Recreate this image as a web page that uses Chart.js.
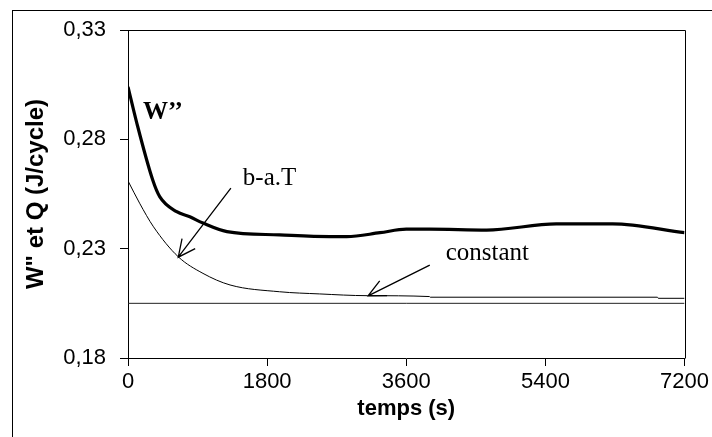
<!DOCTYPE html>
<html>
<head>
<meta charset="utf-8">
<script src="https://cdn.jsdelivr.net/npm/chart.js@4.4.1/dist/chart.umd.min.js"></script>
<style>
  html, body { margin: 0; padding: 0; background: #fff; }
  #wrap { width: 712px; height: 437px; }
</style>
</head>
<body>
<div id="wrap"><canvas id="graphe"></canvas></div>
<script>
// valeurs
const xTicks = [0, 1800, 3600, 5400, 7200];
const yTicks = [0.18, 0.23, 0.28, 0.33];

const wTemps = [0, 110, 320, 410, 630, 800, 970, 1280, 1960, 2610, 2830, 3260, 3600, 3900, 4640, 5540, 6270, 7200];
const wValeurs = [0.304, 0.288, 0.2614, 0.2538, 0.2469, 0.2446, 0.2417, 0.2378, 0.2363, 0.2355, 0.2355, 0.2373, 0.2389, 0.2389, 0.2385, 0.2413, 0.2413, 0.2373];

const bTemps = [0, 150, 330, 650, 970, 1320, 1960, 2480, 3100, 3900, 3910, 6850, 6860, 7200];
const bValeurs = [0.261, 0.2508, 0.240, 0.2263, 0.2187, 0.2134, 0.2103, 0.2093, 0.2085, 0.2081, 0.2078, 0.2078, 0.2073, 0.2073];

const cTemps = [0, 7200];
const cValeurs = [0.205, 0.205];

// etiquettes et fleches (en unites du graphe)
const etiquettes = [
  { texte: 'W\u2019\u2019', t: 194, v: 0.2893, gras: true },
  { texte: 'b-a.T', t: 1486, v: 0.2591, gras: false },
  { texte: 'constant', t: 4110, v: 0.2248, gras: false }
];
const fleches = [
  { t1: 1331, v1: 0.2577, t2: 650, v2: 0.2261 },
  { t1: 3904, v1: 0.2225, t2: 3106, v2: 0.2084 }
];

const points = (ts, vs) => ts.map((t, i) => ({ x: t, y: vs[i] }));

// cadre exterieur, bordure du trace, textes et fleches
const decor = {
  id: 'decor',
  beforeDraw(chart) {
    const c = chart.ctx;
    c.save();
    c.strokeStyle = '#000';
    c.lineWidth = 1;
    c.strokeRect(12.5, 10.5, 800, 600);
    c.restore();
  },
  afterDraw(chart) {
    const c = chart.ctx;
    const a = chart.chartArea;
    const sx = chart.scales.x, sy = chart.scales.y;
    c.save();
    c.strokeStyle = '#000';
    c.lineWidth = 1;
    c.beginPath();
    c.moveTo(Math.round(a.left) + 0.5, Math.round(a.top) + 0.5);
    c.lineTo(Math.round(a.right) + 0.5, Math.round(a.top) + 0.5);
    c.lineTo(Math.round(a.right) + 0.5, Math.round(a.bottom) + 0.5);
    c.stroke();

    c.fillStyle = '#000';
    c.textBaseline = 'alphabetic';
    etiquettes.forEach(e => {
      c.font = (e.gras ? 'bold ' : '') + '25px "Liberation Serif", "Times New Roman", serif';
      c.fillText(e.texte, sx.getPixelForValue(e.t), sy.getPixelForValue(e.v));
    });

    c.lineWidth = 1.3;
    fleches.forEach(f => {
      const x1 = sx.getPixelForValue(f.t1), y1 = sy.getPixelForValue(f.v1);
      const x2 = sx.getPixelForValue(f.t2), y2 = sy.getPixelForValue(f.v2);
      const ang = Math.atan2(y2 - y1, x2 - x1);
      const L = 19, w = 0.45;
      c.beginPath();
      c.moveTo(x1, y1);
      c.lineTo(x2, y2);
      c.moveTo(x2 - L * Math.cos(ang - w), y2 - L * Math.sin(ang - w));
      c.lineTo(x2, y2);
      c.lineTo(x2 - L * Math.cos(ang + w), y2 - L * Math.sin(ang + w));
      c.stroke();
    });
    c.restore();
  }
};

const ctx = document.getElementById('graphe').getContext('2d');
const graphe = new Chart(ctx, {
  type: 'line',
  data: {
    datasets: [
      {
        label: 'W\u2019\u2019',
        data: points(wTemps, wValeurs),
        borderColor: '#000',
        borderWidth: 3.2,
        pointRadius: 0,
        cubicInterpolationMode: 'monotone'
      },
      {
        label: 'b-a.T',
        data: points(bTemps, bValeurs),
        borderColor: '#000',
        borderWidth: 1,
        pointRadius: 0,
        cubicInterpolationMode: 'monotone'
      },
      {
        label: 'constant',
        data: points(cTemps, cValeurs),
        borderColor: '#222',
        borderWidth: 1,
        pointRadius: 0
      }
    ]
  },
  options: {
    responsive: true,
    maintainAspectRatio: false,
    animation: false,
    layout: { padding: { left: 0, top: 30, right: 27, bottom: 0 } },
    plugins: {
      legend: { display: false },
      tooltip: { enabled: false }
    },
    scales: {
      x: {
        type: 'linear',
        min: 0,
        max: 7200,
        afterBuildTicks: s => { s.ticks = xTicks.map(v => ({ value: v })); },
        afterFit: s => { s.height = 79; },
        grid: { drawOnChartArea: false, tickLength: 8, color: '#000' },
        border: { color: '#000' },
        ticks: {
          color: '#000',
          padding: 3,
          maxRotation: 0,
          callback: v => String(v),
          font: { family: '"Liberation Sans", Arial, sans-serif', size: 22 }
        },
        title: {
          display: true,
          text: 'temps (s)',
          color: '#000',
          padding: { top: 0, bottom: 15 },
          font: { family: '"Liberation Sans", Arial, sans-serif', size: 22, weight: 'bold' }
        }
      },
      y: {
        min: 0.18,
        max: 0.33,
        afterBuildTicks: s => { s.ticks = yTicks.map(v => ({ value: v })); },
        afterFit: s => { s.width = 128; },
        grid: { drawOnChartArea: false, tickLength: 8, color: '#000' },
        border: { color: '#000' },
        ticks: {
          color: '#000',
          padding: 14,
          callback: v => v.toFixed(2).replace('.', ','),
          font: { family: '"Liberation Sans", Arial, sans-serif', size: 22 }
        },
        title: {
          display: true,
          text: 'W" et Q (J/cycle)',
          color: '#000',
          padding: { top: 22, bottom: 0 },
          font: { family: '"Liberation Sans", Arial, sans-serif', size: 24, weight: 'bold' }
        }
      }
    }
  },
  plugins: [decor]
});
</script>
</body>
</html>
